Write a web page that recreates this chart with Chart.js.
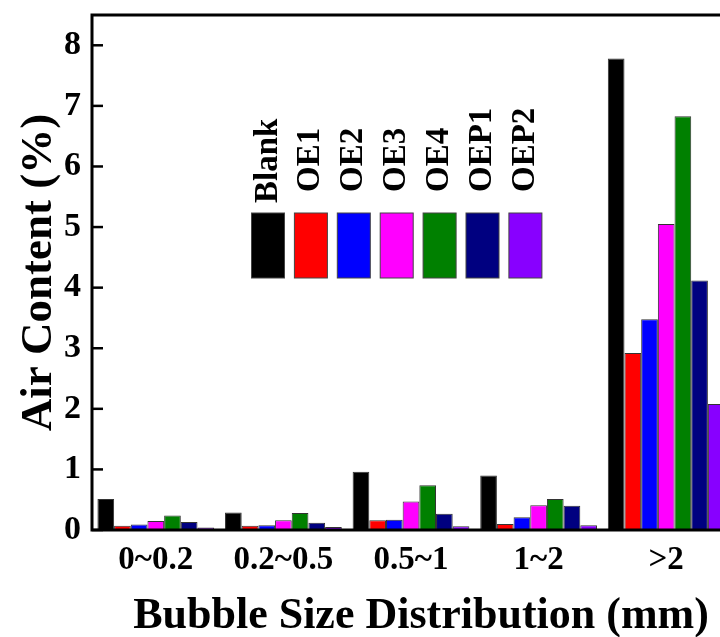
<!DOCTYPE html>
<html lang="en">
<head>
    <meta charset="UTF-8">
    <title>Air content by bubble size</title>
    <style>
        html, body { margin: 0; padding: 0; background: #fff; overflow: hidden; }
        #wrap { width: 720px; height: 637px; overflow: hidden; }
        canvas { display: block; }
    </style>
</head>
<body>
    <div id="wrap">
        <canvas id="myChart" width="760" height="637"></canvas>
    </div>
    <script src="https://cdn.jsdelivr.net/npm/chart.js"></script>
    <script>
    // bubble size classes (mm)
    const categories = ['0~0.2', '0.2~0.5', '0.5~1', '1~2', '>2'];

    // air content (%) per mix
    const blank = [0.51, 0.29, 0.96, 0.90, 7.78];
    const oe1   = [0.07, 0.07, 0.16, 0.10, 2.92];
    const oe2   = [0.09, 0.08, 0.17, 0.21, 3.48];
    const oe3   = [0.15, 0.16, 0.47, 0.41, 5.05];
    const oe4   = [0.24, 0.28, 0.74, 0.51, 6.83];
    const oep1  = [0.13, 0.12, 0.27, 0.40, 4.12];
    const oep2  = [0.04, 0.05, 0.06, 0.08, 2.08];

    const seriesNames = ['Blank', 'OE1', 'OE2', 'OE3', 'OE4', 'OEP1', 'OEP2'];
    const seriesData = [blank, oe1, oe2, oe3, oe4, oep1, oep2];
    const colors = ['#000000', '#ff0000', '#0000ff', '#ff00ff', '#008000', '#000080', '#8800ff'];

    const yTicks = [0, 1, 2, 3, 4, 5, 6, 7, 8];
    const xTitle = 'Bubble Size Distribution (mm)';

    const serif = 'Liberation Serif, Times New Roman, serif';

    // frame + inward tick marks + in-plot legend + x title
    const framePlugin = {
        id: 'frame',
        afterDatasetsDraw(chart) {
            const ctx = chart.ctx;
            const a = chart.chartArea;
            const y = chart.scales.y;
            ctx.save();
            ctx.strokeStyle = '#000';
            ctx.lineWidth = 2.5;
            y.ticks.forEach(t => {
                const py = y.getPixelForValue(t.value);
                ctx.beginPath();
                ctx.moveTo(a.left, py);
                ctx.lineTo(a.left + 11, py);
                ctx.stroke();
            });
            ctx.lineWidth = 3;
            ctx.strokeRect(a.left, a.top, a.right - a.left, a.bottom - a.top);

            // legend: vertical labels above coloured boxes
            const x0 = 268, step = 42.9, bw = 33, top = 213, bh = 65;
            seriesNames.forEach((name, i) => {
                const cx = x0 + i * step;
                ctx.fillStyle = colors[i];
                ctx.fillRect(cx - bw / 2, top, bw, bh);
                ctx.lineWidth = 1;
                ctx.strokeStyle = '#444';
                ctx.strokeRect(cx - bw / 2, top, bw, bh);

                ctx.save();
                ctx.translate(cx, i === 0 ? 203 : 192);
                ctx.rotate(-Math.PI / 2);
                ctx.fillStyle = '#000';
                ctx.font = 'bold 33px ' + serif;
                ctx.textAlign = 'left';
                ctx.textBaseline = 'middle';
                ctx.fillText(name, 0, 0);
                ctx.restore();
            });

            ctx.fillStyle = '#000';
            ctx.font = 'bold 44px ' + serif;
            ctx.textAlign = 'center';
            ctx.textBaseline = 'alphabetic';
            ctx.fillText(xTitle, 421, 628);
            ctx.restore();
        }
    };

    const ctx = document.getElementById('myChart');

    const myChart = new Chart(ctx, {
        type: 'bar',
        data: {
            labels: categories,
            datasets: seriesData.map((d, i) => ({
                label: seriesNames[i],
                data: d,
                backgroundColor: colors[i],
                borderColor: '#333',
                borderWidth: 1,
                categoryPercentage: 0.915,
                barPercentage: 1
            }))
        },
        options: {
            responsive: false,
            animation: false,
            layout: { padding: { top: 15, right: 30, left: 0, bottom: 0 } },
            plugins: {
                legend: { display: false },
                tooltip: { enabled: false }
            },
            scales: {
                x: {
                    grid: { display: false },
                    border: { display: false },
                    ticks: {
                        color: '#000',
                        padding: 6,
                        font: { family: serif, size: 33, weight: 'bold', lineHeight: 1 }
                    },
                    afterFit(s) { s.height = 107; s.paddingLeft = 0; s.paddingRight = 0; }
                },
                y: {
                    min: 0,
                    max: 8.5,
                    grid: { display: false },
                    border: { display: false },
                    afterBuildTicks(s) {
                        s.ticks = yTicks.map(v => ({ value: v }));
                    },
                    ticks: {
                        color: '#000',
                        padding: 3,
                        font: { family: serif, size: 34, weight: 'bold', lineHeight: 1 }
                    },
                    title: {
                        display: true,
                        text: 'Air Content (%)',
                        color: '#000',
                        padding: { top: 17, bottom: 0 },
                        font: { family: serif, size: 45, weight: 'bold', lineHeight: 1 }
                    },
                    afterFit(s) { s.width = 92; s.paddingTop = 0; s.paddingBottom = 0; }
                }
            }
        },
        plugins: [framePlugin]
    });
    </script>
</body>
</html>
